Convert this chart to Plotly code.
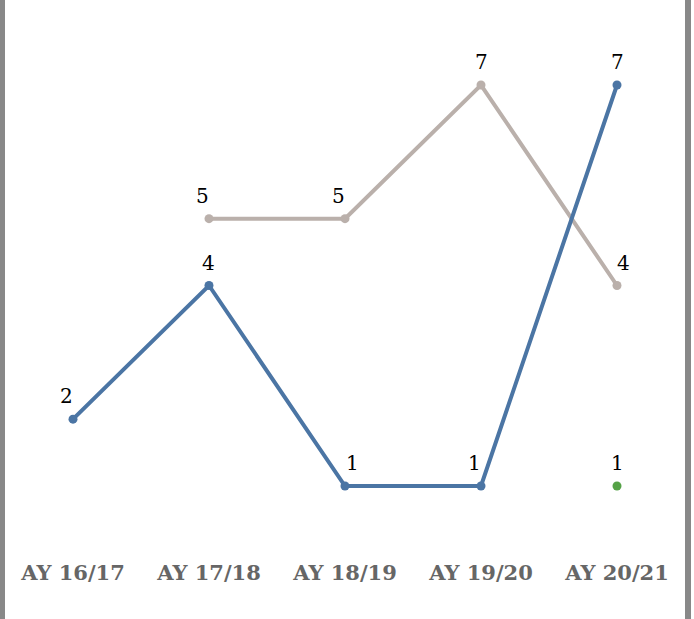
import plotly.graph_objects as go

# Academic years shown along the x axis
years = ["AY 16/17", "AY 17/18", "AY 18/19", "AY 19/20", "AY 20/21"]

# Counts per year for each series (None = no value that year)
blue_counts = [2, 4, 1, 1, 7]
gray_counts = [None, 5, 5, 7, 4]
green_years = ["AY 20/21"]
green_counts = [1]

# Horizontal nudges for value labels so they clear the lines
blue_label_shift = [-7, -1, 7, -7, 0]
gray_label_shift = [0, -7, -7, 0, 6]
green_label_shift = [0]

BLUE = "#4b75a4"
GRAY = "#bab0ab"
GREEN = "#55a247"
LABEL_FONT = dict(family="DejaVu Serif", size=20, color="#000000")

fig = go.Figure()

fig.add_trace(go.Scatter(
    x=years, y=gray_counts, mode="lines+markers",
    line=dict(color=GRAY, width=4), marker=dict(color=GRAY, size=9),
    connectgaps=False, hoverinfo="skip",
))
fig.add_trace(go.Scatter(
    x=years, y=blue_counts, mode="lines+markers",
    line=dict(color=BLUE, width=4), marker=dict(color=BLUE, size=9),
    hoverinfo="skip",
))
fig.add_trace(go.Scatter(
    x=green_years, y=green_counts, mode="markers",
    marker=dict(color=GREEN, size=9), hoverinfo="skip",
))

# Value labels above each point
for xs, ys, shifts in [(years, blue_counts, blue_label_shift),
                       (years, gray_counts, gray_label_shift),
                       (green_years, green_counts, green_label_shift)]:
    for x, y, dx in zip(xs, ys, shifts):
        if y is None:
            continue
        fig.add_annotation(x=x, y=y, text=str(y), showarrow=False,
                           xshift=dx, yshift=23, font=LABEL_FONT)

# Gray side rules framing the chart
side = dict(type="rect", xref="paper", yref="paper", y0=-79 / 540, y1=1,
            fillcolor="#888888", line=dict(width=0), layer="above")
fig.add_shape(x0=-5 / 680, x1=0, **side)
fig.add_shape(x0=1, x1=1 + 6 / 680, **side)

fig.update_layout(
    width=694, height=619,
    margin=dict(l=5, r=9, t=0, b=79),
    paper_bgcolor="white", plot_bgcolor="white",
    showlegend=False,
    xaxis=dict(
        range=[-0.5, 4.5], showgrid=False, zeroline=False, showline=False,
        ticks="", ticklabelstandoff=18,
        tickfont=dict(family="DejaVu Serif", size=21, color="#666666", weight=900),
    ),
    yaxis=dict(
        range=[0.192, 8.272], showgrid=False, zeroline=False, showline=False,
        showticklabels=False, ticks="",
    ),
)

fig.write_html("out.html")
